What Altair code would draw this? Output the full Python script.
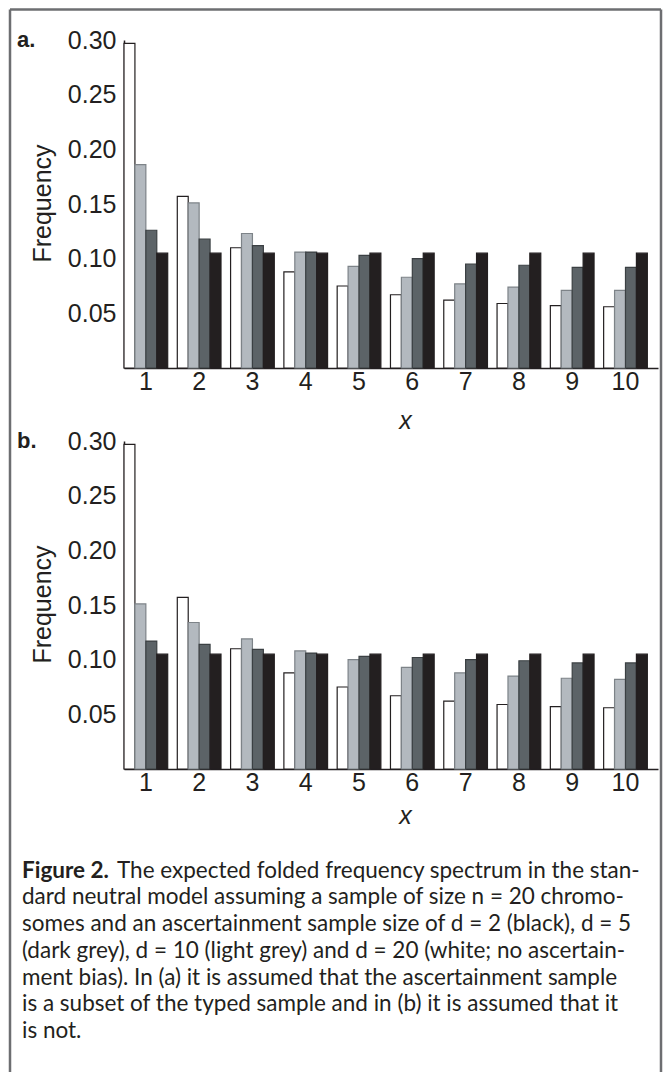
import altair as alt
import pandas as pd

# ---------------- data ----------------
x_vals = [1, 2, 3, 4, 5, 6, 7, 8, 9, 10]
series_order = ["d20", "d10", "d5", "d2"]  # white, light grey, dark grey, black

white_a = [0.297, 0.157, 0.110, 0.088, 0.075, 0.067, 0.062, 0.059, 0.057, 0.056]
light_a = [0.186, 0.151, 0.123, 0.106, 0.093, 0.083, 0.077, 0.074, 0.071, 0.071]
dark_a = [0.126, 0.118, 0.112, 0.106, 0.103, 0.100, 0.095, 0.094, 0.092, 0.092]
black_a = [0.105, 0.105, 0.105, 0.105, 0.105, 0.105, 0.105, 0.105, 0.105, 0.105]

white_b = [0.297, 0.157, 0.110, 0.088, 0.075, 0.067, 0.062, 0.059, 0.057, 0.056]
light_b = [0.151, 0.134, 0.119, 0.108, 0.100, 0.093, 0.088, 0.085, 0.083, 0.082]
dark_b = [0.117, 0.114, 0.1095, 0.106, 0.103, 0.102, 0.100, 0.099, 0.097, 0.097]
black_b = [0.105, 0.105, 0.105, 0.105, 0.105, 0.105, 0.105, 0.105, 0.105, 0.105]

y_ticks = [0.05, 0.10, 0.15, 0.20, 0.25, 0.30]

caption_bold = "Figure 2."
caption_first = "The expected folded frequency spectrum in the stan-"
caption_rest = [
    "dard neutral model assuming a sample of size n = 20 chromo-",
    "somes and an ascertainment sample size of d = 2 (black), d = 5",
    "(dark grey), d = 10 (light grey) and d = 20 (white; no ascertain-",
    "ment bias). In (a) it is assumed that the ascertainment sample",
    "is a subset of the typed sample and in (b) it is assumed that it",
    "is not.",
]


def make_df(w, l, d, b):
    rows = []
    for i, x in enumerate(x_vals):
        for s, v in zip(series_order, [w[i], l[i], d[i], b[i]]):
            rows.append({"x": x, "series": s, "freq": v})
    return pd.DataFrame(rows)


W = 534
H = 328
FONT = "Liberation Sans"
FS = 25
CAP_FONT = "Lato"
CAP_FS = 22.5
INK = "#231f20"

fill_scale = alt.Scale(domain=series_order, range=["#ffffff", "#b3b9bf", "#5c6367", INK])
stroke_scale = alt.Scale(domain=series_order, range=[INK, "#7d8388", "#3b4043", INK])
one = pd.DataFrame({"k": [0]})


def panel(df, tag, x_title_y, with_frame=False):
    bars = alt.Chart(df).mark_bar(strokeWidth=1.2).encode(
        x=alt.X(
            "x:O",
            scale=alt.Scale(paddingInner=0.18, paddingOuter=0.1, align=0),
            axis=alt.Axis(
                title="x", labelAngle=0, ticks=False, grid=False,
                labelFont=FONT, labelFontSize=FS, labelColor=INK, labelPadding=1,
                domainColor=INK, domainWidth=1.5,
                titleFont=FONT, titleFontSize=FS, titleFontStyle="italic",
                titleFontWeight="normal", titleColor=INK,
                titleX=281, titleY=x_title_y, titleBaseline="middle",
            ),
        ),
        xOffset=alt.XOffset(
            "series:N",
            scale=alt.Scale(domain=series_order, paddingInner=0, paddingOuter=0),
        ),
        y=alt.Y(
            "freq:Q",
            scale=alt.Scale(domain=[0, 0.30], nice=False, zero=True),
            axis=alt.Axis(
                values=y_ticks, format=".2f", ticks=False, grid=False,
                labelFont=FONT, labelFontSize=FS, labelColor=INK, labelPadding=8,
                domainColor=INK, domainWidth=1.5,
                title="Frequency", titleFont=FONT, titleFontSize=FS,
                titleFontWeight="normal", titleColor=INK,
                titleX=-82, titleY=163, titleAngle=-90,
                titleAlign="center", titleBaseline="middle",
            ),
        ),
        fill=alt.Fill("series:N", scale=fill_scale, legend=None),
        stroke=alt.Stroke("series:N", scale=stroke_scale, legend=None),
    )
    label = alt.Chart(pd.DataFrame({"t": [tag]})).mark_text(
        font=FONT, fontSize=22, fontWeight="bold", align="left",
        baseline="middle", color=INK,
    ).encode(x=alt.value(-107), y=alt.value(0), text="t:N")
    layers = [bars, label]
    if with_frame:
        fr = dict(color="#6d6e71", strokeWidth=2.5)
        layers += [
            alt.Chart(one).mark_rule(**fr).encode(
                x=alt.value(-114), x2=alt.value(537), y=alt.value(-30.5)),
            alt.Chart(one).mark_rule(**fr).encode(
                x=alt.value(-114), y=alt.value(-30.5), y2=alt.value(1032)),
            alt.Chart(one).mark_rule(**fr).encode(
                x=alt.value(537), y=alt.value(-30.5), y2=alt.value(1032)),
        ]
    return alt.layer(*layers).properties(width=W, height=H)


panel_a = panel(make_df(white_a, light_a, dark_a, black_a), "a.", 52, with_frame=True)
panel_b = panel(make_df(white_b, light_b, dark_b, black_b), "b.", 46)

# ---------------- caption ----------------
LINE = 26.7
n_lines = 1 + len(caption_rest)
cap_y = alt.Scale(domain=[0, n_lines + 1], reverse=True)
first_df = pd.DataFrame({"line": [1], "bold": [caption_bold], "text": [caption_first]})
rest_df = pd.DataFrame({"line": list(range(2, n_lines + 1)), "text": caption_rest})

cap_common = dict(font=CAP_FONT, fontSize=CAP_FS, align="left", baseline="alphabetic",
                  color=INK, dy=9)
cap_bold = alt.Chart(first_df).mark_text(fontWeight="bold", **cap_common).encode(
    x=alt.value(-102), y=alt.Y("line:Q", scale=cap_y, axis=None), text="bold:N")
cap_first = alt.Chart(first_df).mark_text(dx=95, **cap_common).encode(
    x=alt.value(-102), y=alt.Y("line:Q", scale=cap_y, axis=None), text="text:N")
cap_rest = alt.Chart(rest_df).mark_text(**cap_common).encode(
    x=alt.value(-102), y=alt.Y("line:Q", scale=cap_y, axis=None), text="text:N")
caption = alt.layer(cap_bold, cap_first, cap_rest).properties(
    width=W, height=LINE * (n_lines + 1))

chart = alt.vconcat(panel_a, panel_b, caption, spacing=73, bounds="flush").properties(
    padding={"left": 0, "top": 0, "right": 0, "bottom": 0},
    background="white",
).configure_view(stroke=None)

chart.save("out.html", embed_options={"renderer": "svg", "actions": False})
